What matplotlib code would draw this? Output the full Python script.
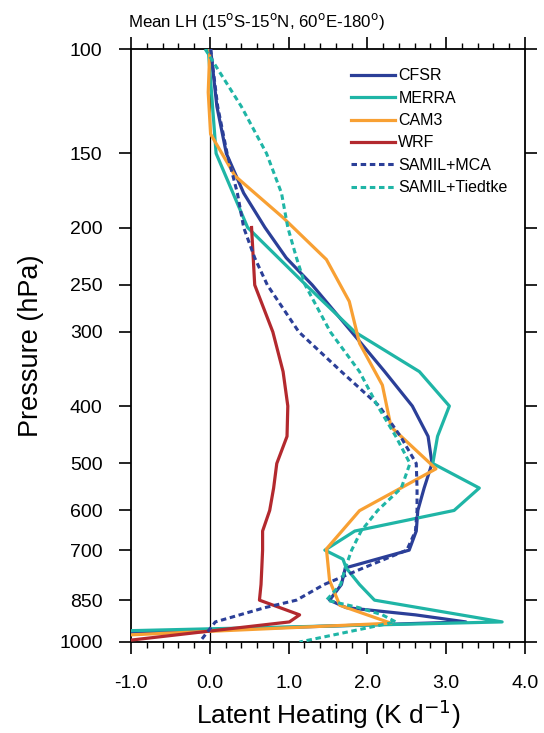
import numpy as np
import matplotlib
matplotlib.use("Agg")
import matplotlib.pyplot as plt
from matplotlib.ticker import FixedLocator, NullLocator, MultipleLocator

plt.rcParams['font.family'] = ['Liberation Sans', 'DejaVu Sans']

# ---------------- data ----------------
cfsr_p = [100, 125, 150, 175, 200, 225, 250, 300, 350, 400, 450, 500, 550, 600, 650, 700,
          750, 800, 850, 875, 900, 925, 1000]
cfsr_v = [0.01, 0.09, 0.21, 0.43, 0.70, 0.97, 1.30, 1.80, 2.22, 2.57, 2.77, 2.82, 2.72, 2.64, 2.62, 2.53,
          1.72, 1.67, 1.52, 1.73, 2.61, 3.25, -5.1]

merra_p = [100, 150, 200, 250, 300, 350, 400, 450, 500, 550, 600, 650, 700, 725, 750, 800, 850, 925, 1000]
merra_v = [-0.02, 0.08, 0.48, 1.22, 1.84, 2.66, 3.04, 2.89, 2.83, 3.42, 3.10, 1.84, 1.46, 1.69, 1.73, 1.90,
           2.09, 3.71, -7.1]

cam3_p = [100.5, 118.3, 139.1, 163.7, 192.5, 226.5, 266.5, 313.5, 368.8, 433.9, 510.5, 600.5, 696.8,
          787.7, 867.2, 929.6, 970.6, 992.6]
cam3_v = [0.0, -0.02, 0.01, 0.32, 0.93, 1.48, 1.77, 1.90, 2.19, 2.30, 2.87, 1.90, 1.48,
          1.52, 1.65, 2.30, -0.85, -2.5]

wrf_p = [200, 250, 300, 350, 400, 450, 500, 550, 600, 650, 700, 750, 800, 850, 900, 925, 1000]
wrf_v = [0.53, 0.57, 0.80, 0.93, 0.99, 0.98, 0.85, 0.81, 0.76, 0.67, 0.67, 0.66, 0.65, 0.63, 1.14, 1.01, -1.21]

mca_p = [100, 125, 150, 175, 200, 225, 250, 300, 350, 400, 450, 500, 550, 600, 650, 700,
         750, 800, 850, 875, 900, 925, 1000]
mca_v = [0.01, 0.10, 0.22, 0.35, 0.43, 0.57, 0.73, 1.13, 1.67, 2.15, 2.42, 2.62, 2.63, 2.63, 2.61, 2.50,
         1.95, 1.45, 1.10, 0.70, 0.38, 0.07, -0.13]

tied_p = [100, 125, 150, 175, 200, 225, 250, 300, 350, 400, 450, 500, 550, 600, 650, 700,
          750, 800, 850, 875, 900, 925, 1000]
tied_v = [-0.06, 0.40, 0.72, 0.91, 0.99, 1.10, 1.21, 1.53, 1.90, 2.13, 2.36, 2.54, 2.43, 2.13, 1.92, 1.80,
          1.72, 1.66, 1.48, 1.89, 2.19, 2.36, 1.14]

series_names = ["CFSR", "MERRA", "CAM3", "WRF", "SAMIL+MCA", "SAMIL+Tiedtke"]
p_ticks = [100, 150, 200, 250, 300, 400, 500, 600, 700, 850, 1000]
x_ticks = [-1.0, 0.0, 1.0, 2.0, 3.0, 4.0]
title = "Mean LH (15$^{\\mathrm{o}}$S-15$^{\\mathrm{o}}$N, 60$^{\\mathrm{o}}$E-180$^{\\mathrm{o}}$)"

# ---------------- figure ----------------
W, H = 544, 733
fig = plt.figure(figsize=(W / 100, H / 100), dpi=100)
ax = fig.add_axes([131 / W, 1 - 642 / H, (525 - 131) / W, (642 - 49) / H])

blue = "#2b3f98"
teal = "#1fb5a6"
orange = "#f8a033"
red = "#b3292e"

ax.axvline(0, color="black", lw=0.9, zorder=1)

lw = 2.3
dash = (0, (1.8, 1.2))
ax.plot(cfsr_v, cfsr_p, color=blue, lw=lw, label=series_names[0], zorder=3)
ax.plot(merra_v, merra_p, color=teal, lw=lw, label=series_names[1], zorder=3)
ax.plot(cam3_v, cam3_p, color=orange, lw=lw, label=series_names[2], zorder=3)
ax.plot(wrf_v, wrf_p, color=red, lw=lw, label=series_names[3], zorder=3)
ax.plot(mca_v, mca_p, color=blue, lw=2.2, ls=dash, label=series_names[4], zorder=4)
ax.plot(tied_v, tied_p, color=teal, lw=2.2, ls=dash, label=series_names[5], zorder=4)

ax.set_yscale("log")
ax.set_ylim(1000, 100)
ax.set_xlim(-1, 4)
ax.yaxis.set_major_locator(FixedLocator(p_ticks))
ax.yaxis.set_minor_locator(NullLocator())
ax.set_yticklabels([str(p) for p in p_ticks])
ax.xaxis.set_major_locator(FixedLocator(x_ticks))
ax.xaxis.set_minor_locator(MultipleLocator(0.2))
ax.set_xticklabels([f"{v:.1f}" for v in x_ticks])

ax.tick_params(axis="both", which="major", direction="out", length=8.5, width=1.2,
               labelsize=14, top=True, right=True)
ax.tick_params(axis="y", which="major", pad=12)
ax.tick_params(axis="x", which="major", pad=15)
ax.tick_params(axis="x", which="minor", direction="out", length=4.5, width=1.0, top=True)
for s in ax.spines.values():
    s.set_linewidth(1.3)

ax.set_ylabel("Pressure (hPa)", fontsize=19.5, labelpad=11)
ax.set_xlabel("Latent Heating (K d$^{-1}$)", fontsize=19, labelpad=4)
ax.set_title(title, fontsize=12.2, loc="left", pad=16, x=-0.008)

leg = ax.legend(loc="upper left", bbox_to_anchor=((352 - 131) / (525 - 131) - 0.018, 0.978),
                frameon=False, fontsize=11.5,
                handlelength=2.75, handletextpad=0.2, labelspacing=0.46, borderaxespad=0.0)

fig.savefig("out.png", dpi=100)
